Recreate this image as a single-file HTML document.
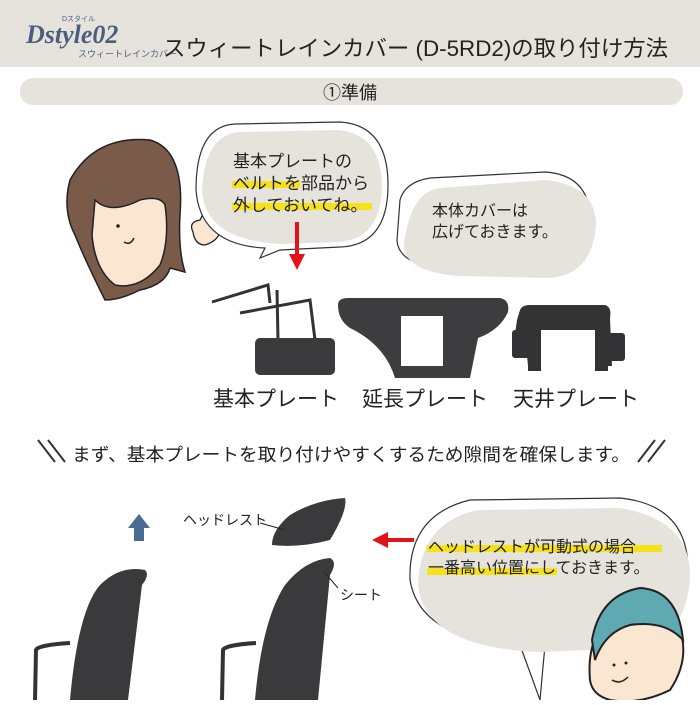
<!DOCTYPE html>
<html><head><meta charset="utf-8"><style>
body{margin:0;width:700px;height:700px;overflow:hidden;background:#fff;font-family:"Liberation Sans","Noto Sans CJK JP",sans-serif}
svg text{font-family:"Liberation Sans","Noto Sans CJK JP",sans-serif;fill:#222}
</style></head><body>
<svg width="700" height="700" viewBox="0 0 700 700" xmlns="http://www.w3.org/2000/svg">
<rect x="0" y="0" width="700" height="67" fill="#e6e3dc"/>
<text x="26" y="43" font-style="italic" font-weight="bold" font-size="26" style="fill:#4a5f80;font-family:'Liberation Serif',serif">Dstyle02</text>
<text x="62" y="21" font-size="7" style="fill:#4a5f80">Dスタイル</text>
<text x="78" y="57" font-size="9" style="fill:#4a5f80">スウィートレインカバー</text>
<text x="163" y="56" font-size="22" textLength="505" lengthAdjust="spacingAndGlyphs">スウィートレインカバー (D-5RD2)の取り付け方法</text>
<rect x="20" y="78" width="663" height="27" rx="13" fill="#e6e3dc"/>
<text x="350" y="99" font-size="18" text-anchor="middle">①準備</text>

<!-- woman -->
<path d="M70 180 Q95 135 150 140 Q185 150 180 215 Q178 250 185 272 L170 268 Q165 285 140 290 Q120 300 105 300 Q85 260 75 235 Q62 210 70 180Z" fill="#7a5a48" stroke="#222" stroke-width="1.5"/>
<path d="M95 200 Q110 215 140 200 Q160 195 165 205 Q170 240 160 265 Q140 290 115 285 Q95 270 92 235Z" fill="#fbe6d2" stroke="#222" stroke-width="1.5"/>
<circle cx="118" cy="226" r="1.8" fill="#222"/><path d="M124 242 Q130 246 134 238" stroke="#222" fill="none" stroke-width="1.5"/>
<path d="M193 232 Q188 222 200 220 L208 205 Q212 200 214 210 L222 222 Q222 240 205 245 Q195 245 193 232Z" fill="#fbe6d2" stroke="#222" stroke-width="1.3"/>

<!-- bubble 1 -->
<path d="M235 124 L340 122 Q388 125 388 185 Q388 245 340 247 L280 250 L260 258 L265 248 Q200 245 196 190 Q196 126 235 124Z" fill="#fff" stroke="#333" stroke-width="1.2"/>
<path d="M240 132 L338 130 Q382 134 382 188 Q380 240 338 242 L280 244 Q205 240 202 190 Q205 134 240 132Z" fill="#e6e3dc"/>
<rect x="232" y="181" width="68" height="7" fill="#f7e218"/>
<rect x="232" y="203" width="140" height="7" fill="#f7e218"/>
<text x="233" y="167" font-size="17">基本プレートの</text>
<text x="233" y="189" font-size="17">ベルトを部品から</text>
<text x="233" y="211" font-size="17">外しておいてね。</text>
<!-- bubble 2 -->
<path d="M430 178 L545 172 Q590 175 590 220 Q590 268 545 270 L460 270 Q398 268 397 240 L400 200 Q405 182 430 178Z" fill="#fff" stroke="#333" stroke-width="1.2"/>
<path d="M440 188 L545 180 Q596 185 596 225 Q592 276 548 278 L460 276 Q404 272 404 245 Q410 192 440 188Z" fill="#e6e3dc"/>
<text x="432" y="216" font-size="16">本体カバーは</text>
<text x="432" y="237" font-size="16">広げておきます。</text>
<!-- red arrow -->
<rect x="295" y="222" width="4" height="35" fill="#e2141b"/>
<path d="M289 254 L305 254 L297 270Z" fill="#e2141b"/>

<!-- parts -->
<path d="M212 302 L268 285 L270 303 M240 313 L310 300 L315 340 M277 290 L278 340" stroke="#333" stroke-width="3" fill="none"/>
<rect x="255" y="338" width="80" height="37" rx="5" fill="#3b3b3e"/>
<path d="M338 305 Q338 298 348 298 L500 298 Q510 300 508 312 Q500 330 478 338 L470 378 L395 378 Q385 345 350 328 Q338 320 338 305Z" fill="#3d3d40"/>
<rect x="401" y="316" width="42" height="50" fill="#fff"/>
<path d="M517 320 L520 310 Q522 305 530 305 L605 305 Q612 307 610 318 L612 366 L603 366 L602 330 L540 330 L538 366 L528 366 L527 355 L512 355 Z" fill="#333336"/>
<rect x="540" y="330" width="62" height="40" fill="#fff"/>
<rect x="528" y="325" width="13" height="46" fill="#333336"/><rect x="595" y="325" width="13" height="46" fill="#333336"/>
<rect x="512" y="330" width="18" height="28" rx="3" fill="#333336"/><rect x="600" y="333" width="25" height="28" rx="3" fill="#333336"/>

<text x="276" y="406" font-size="21" text-anchor="middle">基本プレート</text>
<text x="425" y="406" font-size="21" text-anchor="middle">延長プレート</text>
<text x="576" y="406" font-size="21" text-anchor="middle">天井プレート</text>

<path d="M38 440 L55 462 M48 440 L65 462 M638 462 L655 440 M648 462 L665 440" stroke="#333" stroke-width="2"/>
<text x="72" y="461" font-size="18" textLength="558" lengthAdjust="spacingAndGlyphs">まず、基本プレートを取り付けやすくするため隙間を確保します。</text>

<!-- seats -->
<rect x="134" y="527" width="10" height="14" fill="#4a6b94"/>
<path d="M128 528 L139 514 L150 528Z" fill="#4a6b94"/>
<path d="M70 700 Q78 610 100 585 Q120 565 145 570 Q150 575 142 585 L128 700Z" fill="#3a3a3c"/>
<path d="M35 700 L36 650 Q38 645 70 643" stroke="#333" stroke-width="4" fill="none"/>
<path d="M255 700 Q262 620 285 585 Q305 560 330 558 Q338 562 330 575 L318 700Z" fill="#3a3a3c"/>
<path d="M272 545 Q272 530 290 515 Q315 500 345 498 Q348 510 330 540 Q300 548 272 545Z" fill="#3a3a3c"/>
<path d="M222 700 L223 650 Q225 645 256 643" stroke="#333" stroke-width="4" fill="none"/>
<text x="183" y="525" font-size="14">ヘッドレスト</text>
<path d="M260 523 L285 530" stroke="#222"/>
<text x="340" y="600" font-size="14">シート</text>
<path d="M325 573 L338 588" stroke="#222"/>
<!-- red arrow left -->
<path d="M372 540 L388 532 L388 548Z" fill="#e2141b"/><rect x="386" y="538" width="28" height="4" fill="#e2141b"/>

<!-- bubble 3 -->
<path d="M470 500 L620 498 Q688 505 688 570 Q686 630 630 640 L545 645 L540 700 L520 645 Q420 640 410 580 Q408 515 470 500Z" fill="#fff" stroke="#333" stroke-width="1.2"/>
<path d="M478 510 L620 508 Q690 520 690 575 Q688 640 630 648 L540 652 Q425 648 418 585 Q420 522 478 510Z" fill="#e6e3dc"/>
<rect x="427" y="545" width="235" height="7" fill="#f7e218"/>
<rect x="427" y="568" width="130" height="7" fill="#f7e218"/>
<text x="428" y="552" font-size="16">ヘッドレストが可動式の場合</text>
<text x="428" y="573" font-size="16">一番高い位置にしておきます。</text>
<!-- boy -->
<path d="M590 680 Q585 625 630 605 Q665 600 680 630 Q690 660 670 690 Q640 705 610 700 Q592 695 590 680Z" fill="#fbe6d2" stroke="#222" stroke-width="2"/>
<path d="M592 640 Q600 595 640 588 Q678 590 683 640 Q665 620 630 625 Q605 632 595 660Z" fill="#5fa9b3" stroke="#222" stroke-width="2"/>
<circle cx="614" cy="665" r="1.5" fill="#222"/><circle cx="626" cy="663" r="1.5" fill="#222"/>
<path d="M612 680 Q620 685 628 677" stroke="#222" fill="none" stroke-width="1.5"/>
</svg>
</body></html>
